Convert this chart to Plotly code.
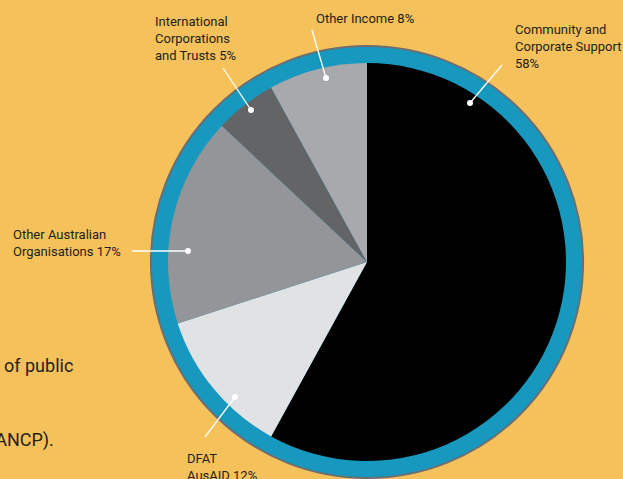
import plotly.graph_objects as go

W, H = 623, 479

sources = [
    "Community and Corporate Support",
    "DFAT AusAID",
    "Other Australian Organisations",
    "International Corporations and Trusts",
    "Other Income",
]
shares = [58, 12, 17, 5, 8]
slice_colors = ["#000000", "#e1e2e4", "#939598", "#636466", "#a8a9ad"]

label_texts = [
    "Community and<br>Corporate Support<br>58%",
    "DFAT<br>AusAID 12%",
    "Other Australian<br>Organisations 17%",
    "International<br>Corporations<br>and Trusts 5%",
    "Other Income 8%",
]
# label block (left x, centre y) and leader line (outer end, dot end), in pixels
label_pos = [(513, 46), (185, 467), (11, 243), (153, 38), (314, 18)]
leaders = [
    ((502, 65), (470, 103)),
    ((205, 437), (235, 397)),
    ((132, 251), (188, 251)),
    ((223, 68), (251, 110)),
    ((312, 30), (326, 78)),
]

CX, CY = 367, 262
R_OUTER, R_INNER = 216, 199


def px(x):
    return x / W


def py(y):
    return 1 - y / H


def domain(r):
    return {"x": [px(CX - r), px(CX + r)], "y": [py(CY + r), py(CY - r)]}


fig = go.Figure()

# blue ring behind the pie
fig.add_trace(go.Pie(
    values=[1],
    domain=domain(R_OUTER),
    marker={"colors": ["#1798be"], "line": {"color": "#6d6e71", "width": 2}},
    textinfo="none",
    hoverinfo="skip",
    showlegend=False,
    sort=False,
))

fig.add_trace(go.Pie(
    labels=sources,
    values=shares,
    domain=domain(R_INNER),
    marker={"colors": slice_colors, "line": {"width": 0}},
    direction="clockwise",
    rotation=0,
    sort=False,
    textinfo="none",
    showlegend=False,
))

shapes = []
for (x0, y0), (x1, y1) in leaders:
    shapes.append(dict(
        type="line", xref="paper", yref="paper",
        x0=px(x0), y0=py(y0), x1=px(x1), y1=py(y1),
        line={"color": "white", "width": 1.3},
    ))
    r = 3
    shapes.append(dict(
        type="circle", xref="paper", yref="paper",
        x0=px(x1 - r), y0=py(y1 + r), x1=px(x1 + r), y1=py(y1 - r),
        fillcolor="white", line={"width": 0},
    ))

annotations = []
for text, (x, y) in zip(label_texts, label_pos):
    annotations.append(dict(
        text=text, xref="paper", yref="paper", x=px(x), y=py(y),
        xanchor="left", yanchor="middle", align="left", showarrow=False,
        font={"family": "Roboto", "size": 13, "color": "#231f20"},
    ))

# clipped body text on the left edge
for text, (x, y) in [("of public", (75, 365)), ("(ANCP).", (56, 440))]:
    annotations.append(dict(
        text=text, xref="paper", yref="paper", x=px(x), y=py(y),
        xanchor="right", yanchor="middle", showarrow=False,
        font={"family": "Roboto", "size": 18, "color": "#231f20"},
    ))

fig.update_layout(
    width=W, height=H,
    margin={"l": 0, "r": 0, "t": 0, "b": 0},
    paper_bgcolor="#f5c15a",
    plot_bgcolor="#f5c15a",
    shapes=shapes,
    annotations=annotations,
)

fig.write_html(
    "out.html",
    config={"displayModeBar": False},
    post_script="document.body.style.margin='0';document.body.style.overflow='hidden';",
)
